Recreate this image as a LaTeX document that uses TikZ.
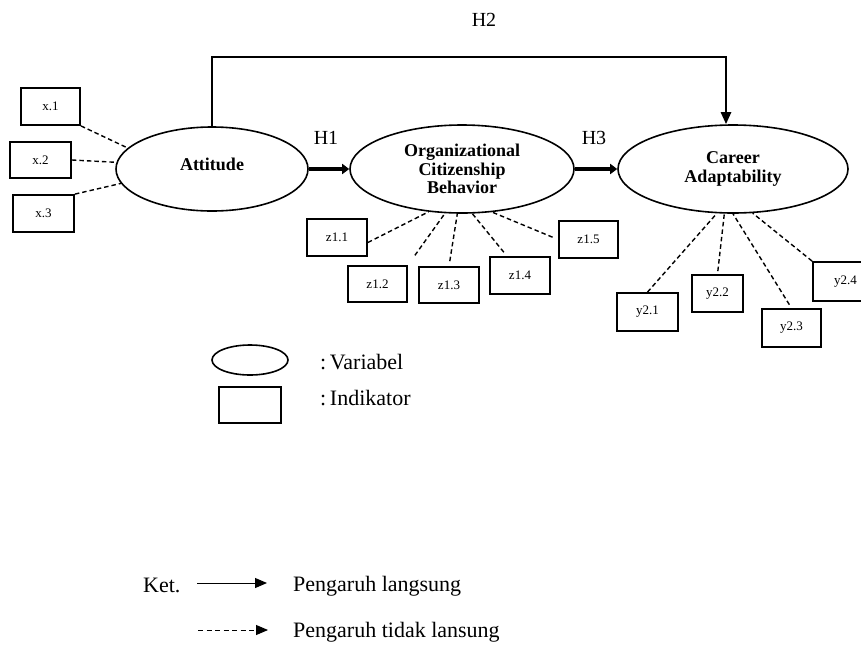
\documentclass[tikz,border=0pt]{standalone}
\usepackage{fontspec}
\setmainfont{Liberation Serif}
\usetikzlibrary{shapes.geometric,arrows.meta}
\begin{document}
\begin{tikzpicture}[x=1pt,y=-1pt,
  var/.style={ellipse,draw,line width=1.6pt,inner sep=0pt,align=center,
    font=\fontsize{18}{18.5}\selectfont\bfseries},
  ind/.style={rectangle,draw,line width=1.8pt,inner sep=0pt,
    font=\fontsize{13}{13}\selectfont},
  dsh/.style={line width=1.4pt,dash pattern=on 4.5pt off 3pt},
  strong/.style={line width=4pt,-{Triangle[length=7pt,width=10pt]}},
  hlab/.style={font=\fontsize{20}{20}\selectfont},
  leg/.style={anchor=west,inner sep=0pt,font=\fontsize{22}{22}\selectfont},
  legtip/.style={-{Triangle[length=12pt,width=10pt]}}
]
\fill[white] (0,0) rectangle (861,648);
\clip (0,0) rectangle (861,648);

% latent variables
\node[var,minimum width=192pt,minimum height=84pt] (att) at (212,169) {\raisebox{9pt}{Attitude}};
\node[var,minimum width=224pt,minimum height=88pt] (ocb) at (462,169) {Organizational\\Citizenship\\Behavior};
\node[var,minimum width=230pt,minimum height=88pt] (ca) at (733,169) {Career\\Adaptability};

% indicators
\node[ind,minimum width=59pt,minimum height=37pt] (x1) at (50.5,106.5) {x.1};
\node[ind,minimum width=61pt,minimum height=36pt] (x2) at (40.5,160) {x.2};
\node[ind,minimum width=61pt,minimum height=37pt] (x3) at (43.5,213.5) {x.3};

\node[ind,minimum width=60pt,minimum height=37pt] (z11) at (337,237.5) {z1.1};
\node[ind,minimum width=59pt,minimum height=36pt] (z12) at (377.5,284) {z1.2};
\node[ind,minimum width=60pt,minimum height=36pt] (z13) at (449,285) {z1.3};
\node[ind,minimum width=60pt,minimum height=37pt] (z14) at (520,275.5) {z1.4};
\node[ind,minimum width=59pt,minimum height=37pt] (z15) at (588.5,239.5) {z1.5};

\node[ind,minimum width=61pt,minimum height=38pt] (y21) at (647.5,312) {y2.1};
\node[ind,minimum width=51pt,minimum height=37pt] (y22) at (717.5,293.5) {y2.2};
\node[ind,minimum width=59pt,minimum height=38pt] (y23) at (791.5,328) {y2.3};
\node[ind,minimum width=65pt,minimum height=39pt] (y24) at (845.5,281.5) {y2.4};

% dashed indicator links
\draw[dsh] (x1.south east) -- (att.166);
\draw[dsh] (x2.east) -- (att.176);
\draw[dsh] (x3.north east) -- (att.189);

\draw[dsh] ([yshift=-5pt]z11.east) -- (ocb.232);
\draw[dsh,shorten <=12pt] (z12.north east) -- (ocb.249);
\draw[dsh,shorten <=5pt] (z13.north) -- (ocb.264);
\draw[dsh,shorten <=5pt] ([xshift=-13pt]z14.north) -- (ocb.283);
\draw[dsh,shorten <=6pt] (z15.west) -- (ocb.305);

\draw[dsh] (y21.north) -- (ca.250);
\draw[dsh,shorten <=3pt] (y22.north) -- (ca.259);
\draw[dsh,shorten <=4pt] (y23.north) -- (ca.270);
\draw[dsh] (y24.north west) -- (ca.294);

% structural paths
\draw[strong] (att.east) -- (ocb.west);
\draw[strong] (ocb.east) -- (ca.west);
\coordinate (h2l) at (212,57);
\coordinate (h2r) at (726,57);
\draw[line width=2.5pt,-{Triangle[length=12pt,width=10pt]}] (att.north) -- (h2l) -- (h2r) -- (h2r |- ca.north);

\node[hlab] (h1) at (326,138) {H1};
\node[hlab] (h2) at (484,20) {H2};
\node[hlab] (h3) at (594,138) {H3};

% legend
\node[ellipse,draw,line width=1.6pt,minimum width=76pt,minimum height=30pt,inner sep=0pt] (lv) at (250,360) {};
\node[rectangle,draw,line width=1.8pt,minimum width=62pt,minimum height=36pt,inner sep=0pt] (li) at (250,405) {};
\node[leg] (tv) at (320,362) {:\,Variabel};
\node[leg] (ti) at (320,398) {:\,Indikator};

\node[leg] (ket) at (143,585) {Ket.};
\coordinate (a1s) at (197,583);
\coordinate (a1e) at (267,583);
\draw[line width=1pt,legtip] (a1s) -- (a1e);
\node[leg] (t1) at (293,586) {Pengaruh langsung};
\coordinate (a2s) at (198,630);
\coordinate (a2e) at (268,630);
\draw[line width=1pt,dash pattern=on 5pt off 3.5pt,legtip] (a2s) -- (a2e);
\node[leg] (t2) at (293,632) {Pengaruh tidak lansung};
\end{tikzpicture}
\end{document}
